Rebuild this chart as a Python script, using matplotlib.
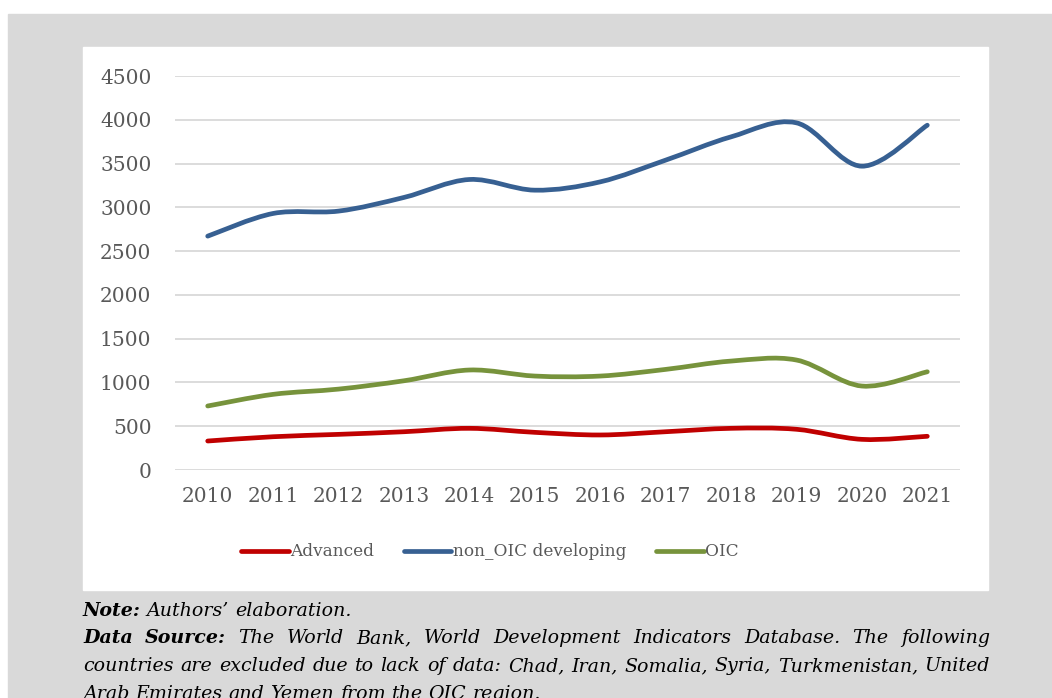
import numpy as np
import matplotlib
matplotlib.use('Agg')
import matplotlib.pyplot as plt
from matplotlib.path import Path
from matplotlib.patches import PathPatch, Rectangle
from matplotlib.lines import Line2D

years = ['2010', '2011', '2012', '2013', '2014', '2015',
         '2016', '2017', '2018', '2019', '2020', '2021']
advanced = [331, 380, 407, 437, 476, 430, 400, 437, 476, 465, 350, 385]
non_oic = [2671, 2930, 2957, 3113, 3318, 3196, 3291, 3539, 3805, 3965, 3470, 3938]
oic = [731, 864, 924, 1019, 1142, 1073, 1073, 1149, 1244, 1256, 959, 1122]

series = [('Advanced', advanced, '#C00000'),
          ('non_OIC developing', non_oic, '#376092'),
          ('OIC', oic, '#77933C')]

note_lines = [
    [('Note:', 'bold'), ('Authors\u2019 elaboration.', 'normal')],
    [('Data Source:', 'bold'), ('The World Bank, World Development Indicators Database. The following', 'normal')],
    [('countries are excluded due to lack of data:  Chad, Iran, Somalia, Syria, Turkmenistan, United', 'normal')],
    [('Arab Emirates and Yemen from the OIC region.', 'normal')],
]
justified = [False, True, True, False]

W, H = 1052, 698
SERIF = 'DejaVu Serif'


def smooth_path(vals):
    # cubic bezier through every point, excel-style smoothing
    pts = np.column_stack([np.arange(len(vals)), vals]).astype(float)
    n = len(pts)
    verts = [pts[0]]
    codes = [Path.MOVETO]
    for i in range(n - 1):
        p0 = pts[i - 1] if i > 0 else pts[i]
        p3 = pts[i + 2] if i + 2 < n else pts[i + 1]
        c1 = pts[i] + (pts[i + 1] - p0) / 6
        c2 = pts[i + 1] - (p3 - pts[i]) / 6
        verts += [c1, c2, pts[i + 1]]
        codes += [Path.CURVE4] * 3
    return Path(verts, codes)


def fx(px):
    return px / W


def fy(py):
    return 1 - py / H


fig = plt.figure(figsize=(W / 100, H / 100), dpi=100)
fig.patch.set_facecolor('white')
fig.patches.append(Rectangle((fx(8), 0), fx(W - 8), (H - 14) / H,
                             transform=fig.transFigure, color='#d9d9d9', zorder=-10))
fig.patches.append(Rectangle((fx(83), fy(590)), fx(988 - 83), (590 - 47) / H,
                             transform=fig.transFigure, color='white', zorder=-9))

ax = fig.add_axes([fx(175), fy(470), fx(960 - 175), (470 - 76) / H])
ax.set_facecolor('none')
for name, vals, col in series:
    ax.add_patch(PathPatch(smooth_path(vals), fill=False, edgecolor=col,
                           lw=3.4, capstyle='round', joinstyle='round', zorder=3))

ax.set_xlim(-0.5, len(years) - 0.5)
ax.set_ylim(0, 4500)
ax.set_yticks(np.arange(0, 4501, 500))
ax.set_xticks(range(len(years)))
ax.set_xticklabels(years)
ax.grid(axis='y', color='#d9d9d9', lw=1.3)
ax.set_axisbelow(True)
for s in ax.spines.values():
    s.set_visible(False)
ax.tick_params(length=0, labelsize=14.5, labelcolor='#595959')
ax.tick_params(axis='y', pad=17)
ax.tick_params(axis='x', pad=12)
for lab in ax.get_xticklabels() + ax.get_yticklabels():
    lab.set_family(SERIF)

handles = [Line2D([], [], color=c, lw=3.4, solid_capstyle='round') for _, _, c in series]
fig.legend(handles, [s[0] for s in series], loc='center', bbox_to_anchor=(fx(490), fy(552)),
           ncol=3, frameon=False, handlelength=2.8, handletextpad=0.1, columnspacing=1.75,
           prop={'family': SERIF, 'size': 12.2}, labelcolor='#595959')

# note block under the chart panel
fig.canvas.draw()
renderer = fig.canvas.get_renderer()
fs = 13.7
left, right = 83, 990
baselines = [616, 643, 671, 699]
for parts, just, base in zip(note_lines, justified, baselines):
    words = []
    for txt, wt in parts:
        for w in txt.split(' '):
            if w:
                words.append((w, wt))
    arts = []
    for w, wt in words:
        t = fig.text(0, fy(base), w, fontsize=fs, family=SERIF, style='italic',
                     weight=wt, va='baseline', ha='left', color='black')
        arts.append(t)
    widths = [a.get_window_extent(renderer).width for a in arts]
    space = fig.text(0, 0, 'a a', fontsize=fs, family=SERIF, style='italic')
    sw = space.get_window_extent(renderer).width
    space.remove()
    aw = fig.text(0, 0, 'aa', fontsize=fs, family=SERIF, style='italic')
    sw -= aw.get_window_extent(renderer).width
    aw.remove()
    if just:
        gap = (right - left - sum(widths)) / (len(words) - 1)
    else:
        gap = sw
    x = left
    for a, wdt in zip(arts, widths):
        a.set_x(fx(x))
        x += wdt + gap

fig.savefig('out.png', dpi=100)
